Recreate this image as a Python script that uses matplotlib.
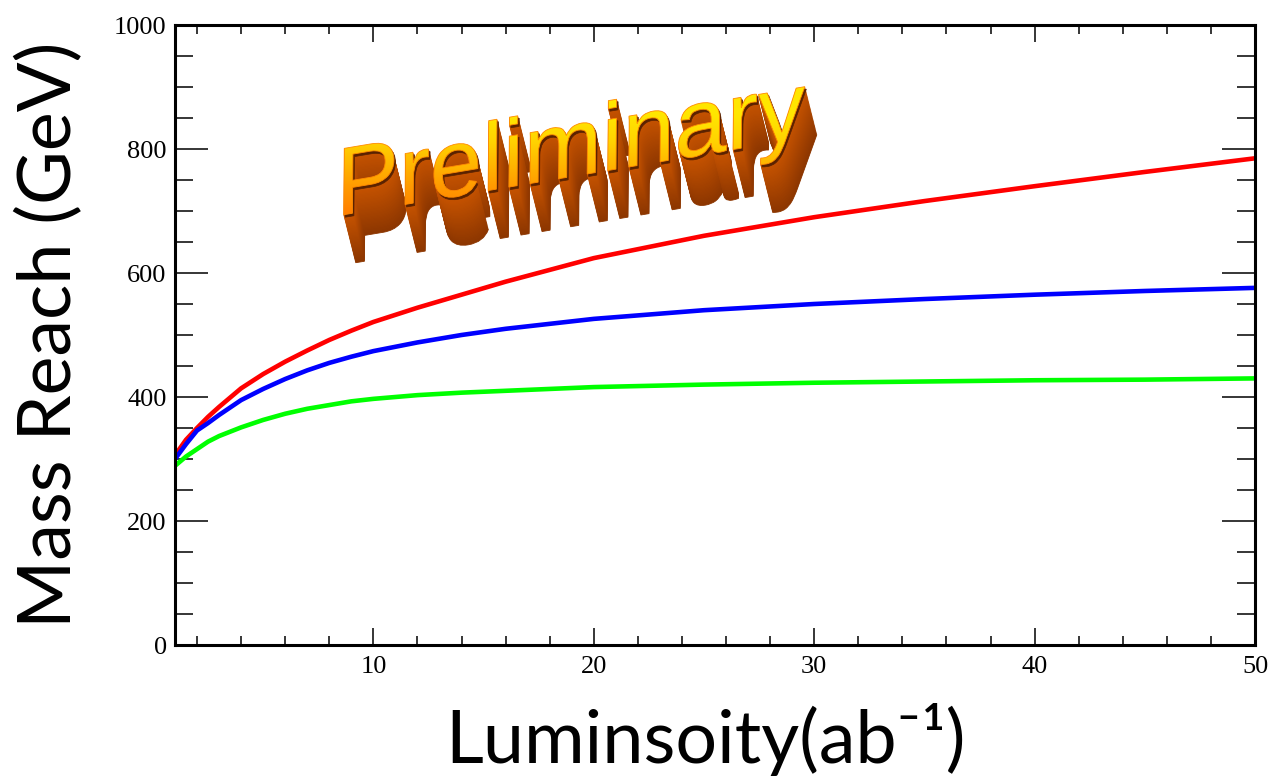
import matplotlib
matplotlib.use("Agg")
import numpy as np
import matplotlib.pyplot as plt
from matplotlib.ticker import MultipleLocator
from matplotlib.textpath import TextPath
from matplotlib.font_manager import FontProperties
from matplotlib.patches import PathPatch
from matplotlib.transforms import Affine2D
from matplotlib.colors import LinearSegmentedColormap, to_rgb

# ---- data ----
luminosity = [1, 1.5, 2, 2.5, 3, 4, 5, 6, 7, 8, 9, 10, 12, 14, 16, 18, 20, 25, 30, 35, 40, 45, 50]
reach_red = [306, 331, 350, 368, 384, 414, 437, 457, 475, 492, 507, 521, 544, 565, 586, 605, 624,
             660, 690, 716, 740, 763, 785]
reach_blue = [300, 324, 346, 358, 371, 395, 413, 429, 443, 455, 465, 474, 488, 500, 510, 518, 526,
              540, 550, 558, 565, 571, 576]
reach_green = [289, 304, 316, 328, 337, 351, 363, 373, 381, 387, 393, 397, 403, 407, 410, 413, 416,
               420, 423, 425, 427, 428, 430]

x_major = [10, 20, 30, 40, 50]
y_major = [0, 200, 400, 600, 800, 1000]

W, H = 1272, 784
fig = plt.figure(figsize=(W / 100, H / 100), dpi=100)
ax = fig.add_axes([175 / W, 1 - 645 / H, (1255 - 175) / W, (645 - 25) / H])

for ys, c in [(reach_red, "#ff0000"), (reach_blue, "#0000ff"), (reach_green, "#00ff00")]:
    ax.plot(luminosity, ys, color=c, lw=3.3, solid_joinstyle="round")

ax.set_xlim(1, 50)
ax.set_ylim(0, 1000)
ax.set_xticks(x_major)
ax.set_yticks(y_major)
ax.xaxis.set_minor_locator(MultipleLocator(2))
ax.yaxis.set_minor_locator(MultipleLocator(50))

for s in ax.spines.values():
    s.set_linewidth(2.2)

ax.tick_params(axis="x", which="major", direction="in", length=12.5, width=1.1,
               top=True, labelsize=19, pad=8)
ax.tick_params(axis="x", which="minor", direction="in", length=6.5, width=1.1, top=True)
ax.tick_params(axis="y", which="major", direction="in", length=24, width=1.1,
               right=True, labelsize=19, pad=6)
ax.tick_params(axis="y", which="minor", direction="in", length=13, width=1.1, right=True)
for lab in ax.get_xticklabels() + ax.get_yticklabels():
    lab.set_fontfamily("Liberation Serif")

# axis labels
fig.text(705 / W, 1 - 740 / H, "Luminsoity(ab⁻¹)", ha="center", va="center",
         fontsize=53, family=["Lato", "DejaVu Sans"])
fig.text(50 / W, 1 - 335 / H, "Mass Reach (GeV)", ha="center", va="center",
         rotation=90, fontsize=53, family=["Lato", "DejaVu Sans"])

# ---- "Preliminary" 3D watermark (overlay in pixel coordinates) ----
ov = fig.add_axes([0, 0, 1, 1], zorder=10)
ov.set_xlim(0, W)
ov.set_ylim(0, H)
ov.axis("off")
ov.patch.set_alpha(0)

tp = TextPath((0, 0), "Preliminary", size=95, prop=FontProperties(family="Liberation Sans"))
tr = Affine2D().skew_deg(10, 0).rotate_deg(9.5).translate(336, H - 216)
front = tr.transform_path(tp)

n_steps = 40
dx, dy = 12.0, -48.0
back_col = np.array(to_rgb("#8c3600"))
near_col = np.array(to_rgb("#c85400"))
for i in range(n_steps, 0, -1):
    f = i / n_steps
    col = near_col * (1 - f) + back_col * f
    shifted = Affine2D().translate(dx * f, dy * f).transform_path(front)
    ov.add_patch(PathPatch(shifted, facecolor=col, edgecolor=col, lw=0.6))

# dark rim just behind the front face
rim = Affine2D().translate(1.5, -2.5).transform_path(front)
ov.add_patch(PathPatch(rim, facecolor="#5a2200", edgecolor="#5a2200", lw=0.5))

clip = PathPatch(front, facecolor="none", edgecolor="none")
ov.add_patch(clip)
grad_cmap = LinearSegmentedColormap.from_list(
    "prelim", [(0.0, "#ff5a00"), (0.35, "#ff9a00"), (0.6, "#ffd200"),
               (0.75, "#ffe600"), (1.0, "#ffe600")])
bb = front.get_extents()
grad = np.linspace(0, 1, 256).reshape(-1, 1)
img = ov.imshow(grad, cmap=grad_cmap, origin="lower", aspect="auto",
                extent=[bb.x0 - 5, bb.x1 + 5, H - 250, H - 70], zorder=3)
img.set_clip_path(clip)
ov.add_patch(PathPatch(front, facecolor="none", edgecolor="#ff8a00", lw=0.6, zorder=4))
ov.set_xlim(0, W)
ov.set_ylim(0, H)

fig.savefig("out.png", dpi=100)
